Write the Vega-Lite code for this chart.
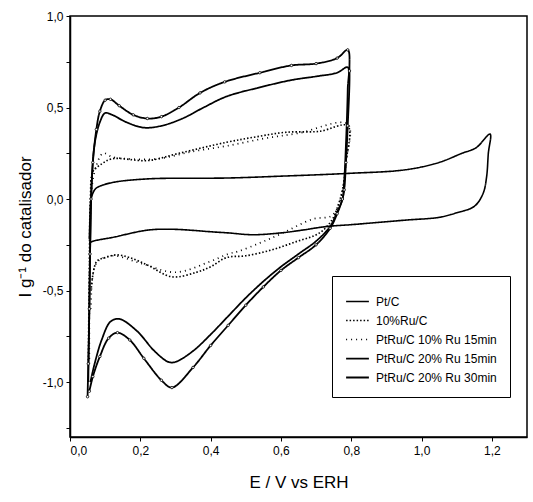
{
 "$schema": "https://vega.github.io/schema/vega-lite/v6.json",
 "width": 457,
 "height": 421,
 "autosize": {"type": "none"},
 "padding": {"left": 70, "top": 16, "right": 6, "bottom": 65},
 "background": "white",
 "config": {
  "view": {"stroke": "black", "strokeWidth": 1.5},
  "font": "Liberation Sans",
  "axis": {"domainColor": "black", "domainWidth": 1.5, "tickColor": "black", "tickWidth": 1, "tickSize": 4, "grid": false, "labelColor": "black", "labelFontSize": 12, "labelFont": "Liberation Sans", "titleFont": "Liberation Sans", "titleFontWeight": "normal", "titleFontSize": 17, "titleColor": "black"},
  "legend": {"orient": "none", "legendX": 262, "legendY": 260, "strokeColor": "black", "fillColor": "white", "padding": 13, "rowPadding": 0, "symbolType": "stroke", "symbolSize": 520, "labelFontSize": 12, "labelOffset": 6, "labelFont": "Liberation Sans", "labelColor": "black", "symbolStrokeColor": "black"}
 },
 "data": {"values": [
  {"s":"Pt/C","i":1,"x":0.055,"y":-0.22},{"s":"Pt/C","i":2,"x":0.057,"y":-0.1},{"s":"Pt/C","i":3,"x":0.06,"y":0.0},{"s":"Pt/C","i":4,"x":0.07,"y":0.05},{"s":"Pt/C","i":5,"x":0.08,"y":0.066},{"s":"Pt/C","i":6,"x":0.12,"y":0.09},{"s":"Pt/C","i":7,"x":0.22,"y":0.11},{"s":"Pt/C","i":8,"x":0.45,"y":0.115},{"s":"Pt/C","i":9,"x":0.6,"y":0.125},{"s":"Pt/C","i":10,"x":0.79,"y":0.14},{"s":"Pt/C","i":11,"x":0.955,"y":0.16},{"s":"Pt/C","i":12,"x":1.05,"y":0.2},{"s":"Pt/C","i":13,"x":1.115,"y":0.25},{"s":"Pt/C","i":14,"x":1.155,"y":0.28},{"s":"Pt/C","i":15,"x":1.195,"y":0.355},{"s":"Pt/C","i":16,"x":1.19,"y":0.25},{"s":"Pt/C","i":17,"x":1.185,"y":0.12},{"s":"Pt/C","i":18,"x":1.175,"y":0.03},{"s":"Pt/C","i":19,"x":1.15,"y":-0.04},{"s":"Pt/C","i":20,"x":1.1,"y":-0.075},{"s":"Pt/C","i":21,"x":1.05,"y":-0.1},{"s":"Pt/C","i":22,"x":0.955,"y":-0.115},{"s":"Pt/C","i":23,"x":0.8,"y":-0.14},{"s":"Pt/C","i":24,"x":0.73,"y":-0.15},{"s":"Pt/C","i":25,"x":0.66,"y":-0.17},{"s":"Pt/C","i":26,"x":0.6,"y":-0.185},{"s":"Pt/C","i":27,"x":0.52,"y":-0.195},{"s":"Pt/C","i":28,"x":0.45,"y":-0.185},{"s":"Pt/C","i":29,"x":0.41,"y":-0.18},{"s":"Pt/C","i":30,"x":0.29,"y":-0.165},{"s":"Pt/C","i":31,"x":0.22,"y":-0.17},{"s":"Pt/C","i":32,"x":0.12,"y":-0.21},{"s":"Pt/C","i":33,"x":0.066,"y":-0.23},{"s":"Pt/C","i":34,"x":0.055,"y":-0.24},

  {"s":"10%Ru/C","i":1,"x":0.052,"y":-0.9},{"s":"10%Ru/C","i":2,"x":0.055,"y":-0.4},{"s":"10%Ru/C","i":3,"x":0.058,"y":0.0},{"s":"10%Ru/C","i":4,"x":0.065,"y":0.15},{"s":"10%Ru/C","i":5,"x":0.085,"y":0.185},{"s":"10%Ru/C","i":6,"x":0.12,"y":0.22},{"s":"10%Ru/C","i":7,"x":0.22,"y":0.21},{"s":"10%Ru/C","i":8,"x":0.31,"y":0.25},{"s":"10%Ru/C","i":9,"x":0.445,"y":0.31},{"s":"10%Ru/C","i":10,"x":0.53,"y":0.34},{"s":"10%Ru/C","i":11,"x":0.615,"y":0.365},{"s":"10%Ru/C","i":12,"x":0.71,"y":0.37},{"s":"10%Ru/C","i":13,"x":0.79,"y":0.4},{"s":"10%Ru/C","i":14,"x":0.785,"y":0.2},{"s":"10%Ru/C","i":15,"x":0.775,"y":0.05},{"s":"10%Ru/C","i":16,"x":0.76,"y":-0.05},{"s":"10%Ru/C","i":17,"x":0.745,"y":-0.115},{"s":"10%Ru/C","i":18,"x":0.71,"y":-0.185},{"s":"10%Ru/C","i":19,"x":0.64,"y":-0.235},{"s":"10%Ru/C","i":20,"x":0.57,"y":-0.28},{"s":"10%Ru/C","i":21,"x":0.5,"y":-0.31},{"s":"10%Ru/C","i":22,"x":0.445,"y":-0.32},{"s":"10%Ru/C","i":23,"x":0.4,"y":-0.37},{"s":"10%Ru/C","i":24,"x":0.36,"y":-0.4},{"s":"10%Ru/C","i":25,"x":0.29,"y":-0.425},{"s":"10%Ru/C","i":26,"x":0.22,"y":-0.36},{"s":"10%Ru/C","i":27,"x":0.17,"y":-0.32},{"s":"10%Ru/C","i":28,"x":0.133,"y":-0.305},{"s":"10%Ru/C","i":29,"x":0.1,"y":-0.32},{"s":"10%Ru/C","i":30,"x":0.076,"y":-0.34},{"s":"10%Ru/C","i":31,"x":0.06,"y":-0.5},

  {"s":"PtRu/C 10% Ru 15min","i":1,"x":0.055,"y":-0.9},{"s":"PtRu/C 10% Ru 15min","i":2,"x":0.06,"y":0.0},{"s":"PtRu/C 10% Ru 15min","i":3,"x":0.07,"y":0.15},{"s":"PtRu/C 10% Ru 15min","i":4,"x":0.094,"y":0.25},{"s":"PtRu/C 10% Ru 15min","i":5,"x":0.12,"y":0.23},{"s":"PtRu/C 10% Ru 15min","i":6,"x":0.16,"y":0.22},{"s":"PtRu/C 10% Ru 15min","i":7,"x":0.25,"y":0.22},{"s":"PtRu/C 10% Ru 15min","i":8,"x":0.35,"y":0.26},{"s":"PtRu/C 10% Ru 15min","i":9,"x":0.445,"y":0.29},{"s":"PtRu/C 10% Ru 15min","i":10,"x":0.55,"y":0.33},{"s":"PtRu/C 10% Ru 15min","i":11,"x":0.65,"y":0.36},{"s":"PtRu/C 10% Ru 15min","i":12,"x":0.79,"y":0.41},{"s":"PtRu/C 10% Ru 15min","i":13,"x":0.785,"y":0.2},{"s":"PtRu/C 10% Ru 15min","i":14,"x":0.77,"y":0.0},{"s":"PtRu/C 10% Ru 15min","i":15,"x":0.745,"y":-0.09},{"s":"PtRu/C 10% Ru 15min","i":16,"x":0.69,"y":-0.11},{"s":"PtRu/C 10% Ru 15min","i":17,"x":0.6,"y":-0.19},{"s":"PtRu/C 10% Ru 15min","i":18,"x":0.54,"y":-0.24},{"s":"PtRu/C 10% Ru 15min","i":19,"x":0.48,"y":-0.285},{"s":"PtRu/C 10% Ru 15min","i":20,"x":0.45,"y":-0.3},{"s":"PtRu/C 10% Ru 15min","i":21,"x":0.4,"y":-0.34},{"s":"PtRu/C 10% Ru 15min","i":22,"x":0.3,"y":-0.4},{"s":"PtRu/C 10% Ru 15min","i":23,"x":0.2,"y":-0.35},{"s":"PtRu/C 10% Ru 15min","i":24,"x":0.12,"y":-0.31},{"s":"PtRu/C 10% Ru 15min","i":25,"x":0.075,"y":-0.35},{"s":"PtRu/C 10% Ru 15min","i":26,"x":0.06,"y":-0.6},

  {"s":"PtRu/C 20% Ru 15min","i":1,"x":0.052,"y":-1.0},{"s":"PtRu/C 20% Ru 15min","i":2,"x":0.055,"y":-0.6},{"s":"PtRu/C 20% Ru 15min","i":3,"x":0.058,"y":-0.2},{"s":"PtRu/C 20% Ru 15min","i":4,"x":0.062,"y":0.1},{"s":"PtRu/C 20% Ru 15min","i":5,"x":0.07,"y":0.3},{"s":"PtRu/C 20% Ru 15min","i":6,"x":0.085,"y":0.42},{"s":"PtRu/C 20% Ru 15min","i":7,"x":0.1,"y":0.47},{"s":"PtRu/C 20% Ru 15min","i":8,"x":0.12,"y":0.46},{"s":"PtRu/C 20% Ru 15min","i":9,"x":0.16,"y":0.42},{"s":"PtRu/C 20% Ru 15min","i":10,"x":0.21,"y":0.39},{"s":"PtRu/C 20% Ru 15min","i":11,"x":0.26,"y":0.4},{"s":"PtRu/C 20% Ru 15min","i":12,"x":0.32,"y":0.44},{"s":"PtRu/C 20% Ru 15min","i":13,"x":0.38,"y":0.5},{"s":"PtRu/C 20% Ru 15min","i":14,"x":0.445,"y":0.56},{"s":"PtRu/C 20% Ru 15min","i":15,"x":0.54,"y":0.61},{"s":"PtRu/C 20% Ru 15min","i":16,"x":0.63,"y":0.65},{"s":"PtRu/C 20% Ru 15min","i":17,"x":0.7,"y":0.67},{"s":"PtRu/C 20% Ru 15min","i":18,"x":0.76,"y":0.69},{"s":"PtRu/C 20% Ru 15min","i":19,"x":0.79,"y":0.72},{"s":"PtRu/C 20% Ru 15min","i":20,"x":0.79,"y":0.6},{"s":"PtRu/C 20% Ru 15min","i":21,"x":0.785,"y":0.3},{"s":"PtRu/C 20% Ru 15min","i":22,"x":0.78,"y":0.1},{"s":"PtRu/C 20% Ru 15min","i":23,"x":0.775,"y":0.0},{"s":"PtRu/C 20% Ru 15min","i":24,"x":0.76,"y":-0.07},{"s":"PtRu/C 20% Ru 15min","i":25,"x":0.74,"y":-0.15},{"s":"PtRu/C 20% Ru 15min","i":26,"x":0.7,"y":-0.23},{"s":"PtRu/C 20% Ru 15min","i":27,"x":0.65,"y":-0.3},{"s":"PtRu/C 20% Ru 15min","i":28,"x":0.6,"y":-0.37},{"s":"PtRu/C 20% Ru 15min","i":29,"x":0.55,"y":-0.45},{"s":"PtRu/C 20% Ru 15min","i":30,"x":0.5,"y":-0.54},{"s":"PtRu/C 20% Ru 15min","i":31,"x":0.45,"y":-0.64},{"s":"PtRu/C 20% Ru 15min","i":32,"x":0.4,"y":-0.74},{"s":"PtRu/C 20% Ru 15min","i":33,"x":0.35,"y":-0.83},{"s":"PtRu/C 20% Ru 15min","i":34,"x":0.3,"y":-0.89},{"s":"PtRu/C 20% Ru 15min","i":35,"x":0.28,"y":-0.89},{"s":"PtRu/C 20% Ru 15min","i":36,"x":0.24,"y":-0.83},{"s":"PtRu/C 20% Ru 15min","i":37,"x":0.19,"y":-0.72},{"s":"PtRu/C 20% Ru 15min","i":38,"x":0.14,"y":-0.655},{"s":"PtRu/C 20% Ru 15min","i":39,"x":0.115,"y":-0.67},{"s":"PtRu/C 20% Ru 15min","i":40,"x":0.09,"y":-0.77},{"s":"PtRu/C 20% Ru 15min","i":41,"x":0.07,"y":-0.9},{"s":"PtRu/C 20% Ru 15min","i":42,"x":0.058,"y":-1.0},

  {"s":"PtRu/C 20% Ru 30min","i":1,"x":0.05,"y":-1.08},{"s":"PtRu/C 20% Ru 30min","i":2,"x":0.052,"y":-0.9},{"s":"PtRu/C 20% Ru 30min","i":3,"x":0.055,"y":-0.6},{"s":"PtRu/C 20% Ru 30min","i":4,"x":0.057,"y":-0.3},{"s":"PtRu/C 20% Ru 30min","i":5,"x":0.06,"y":0.0},{"s":"PtRu/C 20% Ru 30min","i":6,"x":0.065,"y":0.2},{"s":"PtRu/C 20% Ru 30min","i":7,"x":0.075,"y":0.38},{"s":"PtRu/C 20% Ru 30min","i":8,"x":0.085,"y":0.48},{"s":"PtRu/C 20% Ru 30min","i":9,"x":0.1,"y":0.54},{"s":"PtRu/C 20% Ru 30min","i":10,"x":0.115,"y":0.545},{"s":"PtRu/C 20% Ru 30min","i":11,"x":0.14,"y":0.51},{"s":"PtRu/C 20% Ru 30min","i":12,"x":0.18,"y":0.46},{"s":"PtRu/C 20% Ru 30min","i":13,"x":0.22,"y":0.44},{"s":"PtRu/C 20% Ru 30min","i":14,"x":0.26,"y":0.45},{"s":"PtRu/C 20% Ru 30min","i":15,"x":0.31,"y":0.5},{"s":"PtRu/C 20% Ru 30min","i":16,"x":0.37,"y":0.58},{"s":"PtRu/C 20% Ru 30min","i":17,"x":0.44,"y":0.64},{"s":"PtRu/C 20% Ru 30min","i":18,"x":0.54,"y":0.69},{"s":"PtRu/C 20% Ru 30min","i":19,"x":0.63,"y":0.73},{"s":"PtRu/C 20% Ru 30min","i":20,"x":0.7,"y":0.74},{"s":"PtRu/C 20% Ru 30min","i":21,"x":0.76,"y":0.77},{"s":"PtRu/C 20% Ru 30min","i":22,"x":0.79,"y":0.815},{"s":"PtRu/C 20% Ru 30min","i":23,"x":0.795,"y":0.7},{"s":"PtRu/C 20% Ru 30min","i":24,"x":0.79,"y":0.4},{"s":"PtRu/C 20% Ru 30min","i":25,"x":0.785,"y":0.2},{"s":"PtRu/C 20% Ru 30min","i":26,"x":0.78,"y":0.05},{"s":"PtRu/C 20% Ru 30min","i":27,"x":0.775,"y":0.0},{"s":"PtRu/C 20% Ru 30min","i":28,"x":0.76,"y":-0.08},{"s":"PtRu/C 20% Ru 30min","i":29,"x":0.74,"y":-0.16},{"s":"PtRu/C 20% Ru 30min","i":30,"x":0.7,"y":-0.25},{"s":"PtRu/C 20% Ru 30min","i":31,"x":0.65,"y":-0.32},{"s":"PtRu/C 20% Ru 30min","i":32,"x":0.6,"y":-0.39},{"s":"PtRu/C 20% Ru 30min","i":33,"x":0.55,"y":-0.48},{"s":"PtRu/C 20% Ru 30min","i":34,"x":0.5,"y":-0.58},{"s":"PtRu/C 20% Ru 30min","i":35,"x":0.45,"y":-0.69},{"s":"PtRu/C 20% Ru 30min","i":36,"x":0.4,"y":-0.8},{"s":"PtRu/C 20% Ru 30min","i":37,"x":0.35,"y":-0.92},{"s":"PtRu/C 20% Ru 30min","i":38,"x":0.29,"y":-1.03},{"s":"PtRu/C 20% Ru 30min","i":39,"x":0.26,"y":-0.99},{"s":"PtRu/C 20% Ru 30min","i":40,"x":0.21,"y":-0.87},{"s":"PtRu/C 20% Ru 30min","i":41,"x":0.17,"y":-0.77},{"s":"PtRu/C 20% Ru 30min","i":42,"x":0.135,"y":-0.73},{"s":"PtRu/C 20% Ru 30min","i":43,"x":0.11,"y":-0.76},{"s":"PtRu/C 20% Ru 30min","i":44,"x":0.085,"y":-0.86},{"s":"PtRu/C 20% Ru 30min","i":45,"x":0.065,"y":-0.97},{"s":"PtRu/C 20% Ru 30min","i":46,"x":0.055,"y":-1.05}
 ]},
 "layer": [
  {
   "mark": {"type": "line", "interpolate": "catmull-rom"},
   "encoding": {
    "x": {"field": "x", "type": "quantitative", "scale": {"domain": [0, 1.3], "nice": false, "zero": false},
      "axis": {"values": [0,0.1,0.2,0.3,0.4,0.5,0.6,0.7,0.8,0.9,1.0,1.1,1.2], "labelExpr": "round(datum.value*10) % 2 != 0 ? '' : replace(format(datum.value, '.1f'), '.', ',')", "title": "E / V vs ERH", "titlePadding": 18, "labelPadding": 4}},
    "y": {"field": "y", "type": "quantitative", "scale": {"domain": [-1.3, 1.0], "nice": false, "zero": false},
      "axis": {"values": [-1.25,-1.0,-0.75,-0.5,-0.25,0,0.25,0.5,0.75,1.0], "labelExpr": "round(datum.value*4) % 2 != 0 ? '' : replace(replace(format(datum.value, '.1f'), '.', ','), '−', '-')", "title": "I g⁻¹ do catalisador", "titlePadding": 8, "labelPadding": 3}},
    "order": {"field": "i", "type": "quantitative"},
    "color": {"field": "s", "type": "nominal",
      "scale": {"domain": ["Pt/C", "10%Ru/C", "PtRu/C 10% Ru 15min", "PtRu/C 20% Ru 15min", "PtRu/C 20% Ru 30min"], "range": ["black", "black", "black", "black", "black"]},
      "legend": {"title": null}},
    "strokeDash": {"field": "s", "type": "nominal",
      "scale": {"domain": ["Pt/C", "10%Ru/C", "PtRu/C 10% Ru 15min", "PtRu/C 20% Ru 15min", "PtRu/C 20% Ru 30min"], "range": [[1,0],[1.5,2],[1,4],[1,0],[1,0]]},
      "legend": {"title": null}},
    "strokeWidth": {"field": "s", "type": "nominal",
      "scale": {"domain": ["Pt/C", "10%Ru/C", "PtRu/C 10% Ru 15min", "PtRu/C 20% Ru 15min", "PtRu/C 20% Ru 30min"], "range": [1.6, 1.8, 1.4, 3, 3.6]},
      "legend": {"title": null}}
   }
  },
  {
   "transform": [{"filter": "datum.s == 'PtRu/C 20% Ru 30min'"}],
   "mark": {"type": "point", "shape": "circle", "filled": true, "fill": "white", "stroke": "black", "strokeWidth": 0.8, "size": 6, "opacity": 1},
   "encoding": {
    "x": {"field": "x", "type": "quantitative"},
    "y": {"field": "y", "type": "quantitative"}
   }
  }
 ]
}
